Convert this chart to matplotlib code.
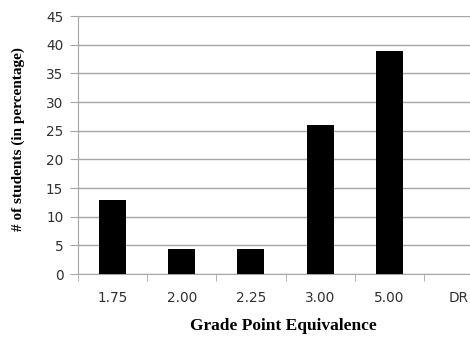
import matplotlib
matplotlib.use('Agg')
import matplotlib.pyplot as plt
import numpy as np

# data
grades = ['1.75', '2.00', '2.25', '3.00', '5.00', 'DR']
percent = [13, 4.35, 4.35, 26, 39, 0]

fig = plt.figure(figsize=(4.7, 3.43), dpi=100)
# right edge runs past the picture, as in the reference (DR category is cut off)
ax = fig.add_axes([0.166, 0.201, 1.049 - 0.166, 0.953 - 0.201])

x = np.arange(len(grades))
ax.bar(x, percent, width=0.39, color='black', zorder=3)

ax.set_xlim(-0.5, len(grades) - 0.5)
ax.set_ylim(0, 45)
ax.set_yticks(np.arange(0, 46, 5))
ax.yaxis.grid(True, color='#a6a6a6', linewidth=1, zorder=0)

# category labels in the middle, ticks on the boundaries
ax.set_xticks(x)
ax.set_xticklabels(grades, fontsize=9.8, family='DejaVu Sans', color='#303030')
ax.set_xticks(np.arange(-0.5, len(grades), 1), minor=True)
ax.tick_params(axis='x', which='major', length=0, pad=12)
ax.tick_params(axis='x', which='minor', length=5, color='#a6a6a6')
ax.tick_params(axis='y', length=6, color='#a6a6a6', labelsize=9.8, pad=4.5,
               labelcolor='#303030')
for lab in ax.get_yticklabels():
    lab.set_family('DejaVu Sans')

for s in ['top', 'right']:
    ax.spines[s].set_visible(False)
ax.spines['left'].set_color('#a6a6a6')
ax.spines['bottom'].set_color('#a6a6a6')

ax.set_xlabel('Grade Point Equivalence', family='Liberation Serif',
              fontweight='bold', fontsize=12.5)
ax.set_ylabel('# of students (in percentage)', family='Liberation Serif',
              fontweight='bold', fontsize=11)
ax.xaxis.set_label_coords((283 - 78) / (493 - 78), -(326 - 274) / 258)
ax.yaxis.set_label_coords(-(78 - 18) / (493 - 78), (274 - 139) / 258)
ax.xaxis.label.set_va('center')
ax.yaxis.label.set_va('center')

fig.savefig('out.png', dpi=100)
